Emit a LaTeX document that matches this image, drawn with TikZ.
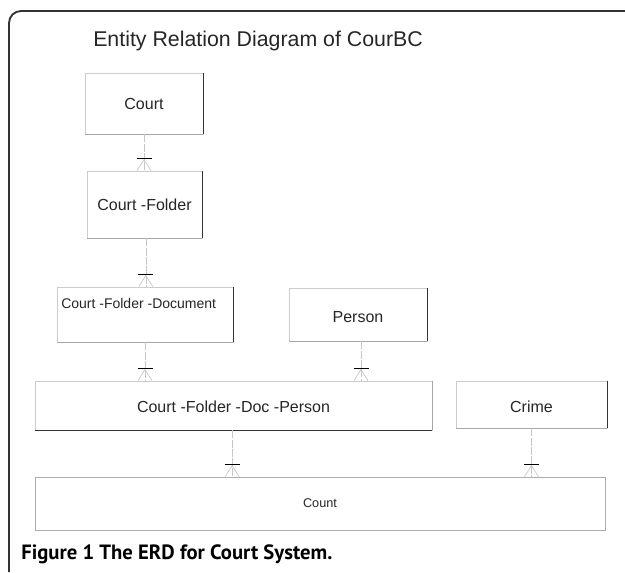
\documentclass[tikz,border=0pt]{standalone}
\usepackage{fontspec}
\setmainfont{Liberation Sans}
\newfontfamily\capfont{PT Sans}
\usetikzlibrary{calc}
\tikzset{
  box/.style={draw=gray!40, line width=0.6pt, fill=white, inner sep=0pt, font=\fontsize{12pt}{14pt}\selectfont, text=black!85},
  darkedge/.style={draw=black!80, line width=0.7pt},
  midedge/.style={draw=gray!70, line width=0.7pt},
  conn/.style={draw=gray!45, line width=0.5pt, dash pattern=on 6pt off 1pt},
  foot/.style={draw=gray!45, line width=0.5pt},
  onebar/.style={draw=black, line width=0.7pt},
  crow/.pic={
    \draw[foot] (-7,0) -- (0,-11) -- (7,0);
    \draw[onebar] (-7.5,-12) -- (7.5,-12);
  },
  frame/.style={draw=black!80, line width=1.4pt, rounded corners=9pt}
}
\begin{document}
\begin{tikzpicture}[x=0.75pt,y=-0.75pt]
\useasboundingbox (0,0) rectangle (625,572);
\draw[frame] (9,572) -- (9,11) -- (625,11);

\node (title) [anchor=base west, font=\fontsize{16pt}{18pt}\selectfont, text=black!85, inner sep=0pt] at (93,46) {Entity Relation Diagram of CourBC};

\node (court)  [box, minimum width=88.5pt,  minimum height=45.75pt] at (144,103.5) {Court};
\node (cf)     [box, minimum width=86.25pt, minimum height=50.25pt] at (144.5,204.5) {Court -Folder};
\node (cfd)    [box, minimum width=132pt,   minimum height=41.25pt] at (145,314.5) {};
\node (cfdtext) [anchor=base west, inner sep=0pt, font=\fontsize{10.5pt}{12pt}\selectfont, text=black!85] at (61,308) {Court -Folder -Document};
\node (person) [box, minimum width=103.5pt, minimum height=39.75pt, text height=12pt, text depth=0pt] at (358,314.5) {Person};
\node (cfdp)   [box, minimum width=297.75pt,minimum height=36.75pt, text height=11pt, text depth=0pt] at (233.5,405.5) {Court -Folder -Doc -Person};
\node (crime)  [box, minimum width=113.25pt,minimum height=35.25pt, text height=12pt, text depth=0pt] at (531.5,404.5) {Crime};
\node (count)  [box, draw=gray!65, minimum width=427.5pt, minimum height=39.75pt, font=\fontsize{9.5pt}{11pt}\selectfont] at (320,503.5) {Count};

% shadowed edges
\foreach \n in {court,cf,cfd,person,crime}{
  \draw[darkedge] (\n.north east) -- (\n.south east);
  \draw[midedge] (\n.south east) -- (\n.south west);
}
\draw[midedge] (cfdp.north east) -- (cfdp.south east);
\draw[darkedge] (cfdp.south east) -- (cfdp.south west);

% connectors
\draw[conn] (court.south) -- (court.south |- cf.north);
\pic at (court.south |- cf.north) {crow};
\draw[conn] ([xshift=1pt]cf.south) -- ([xshift=1pt]cf.south |- cfd.north);
\pic at ([xshift=1pt]cf.south |- cfd.north) {crow};
\draw[conn] (cfd.south) -- (cfd.south |- cfdp.north);
\pic at (cfd.south |- cfdp.north) {crow};
\draw[conn] ([xshift=2.25pt]person.south) -- ([xshift=2.25pt]person.south |- cfdp.north);
\pic at ([xshift=2.25pt]person.south |- cfdp.north) {crow};
\draw[conn] ([xshift=-1pt]cfdp.south) -- ([xshift=-1pt]cfdp.south |- count.north);
\pic at ([xshift=-1pt]cfdp.south |- count.north) {crow};
\draw[conn] (crime.south) -- (crime.south |- count.north);
\pic at (crime.south |- count.north) {crow};

\node (caption) [anchor=base west, inner sep=0pt, font=\capfont\bfseries\fontsize{15.5pt}{18pt}\selectfont] at (21,559) {Figure 1 The ERD for Court System.};
\end{tikzpicture}
\end{document}
